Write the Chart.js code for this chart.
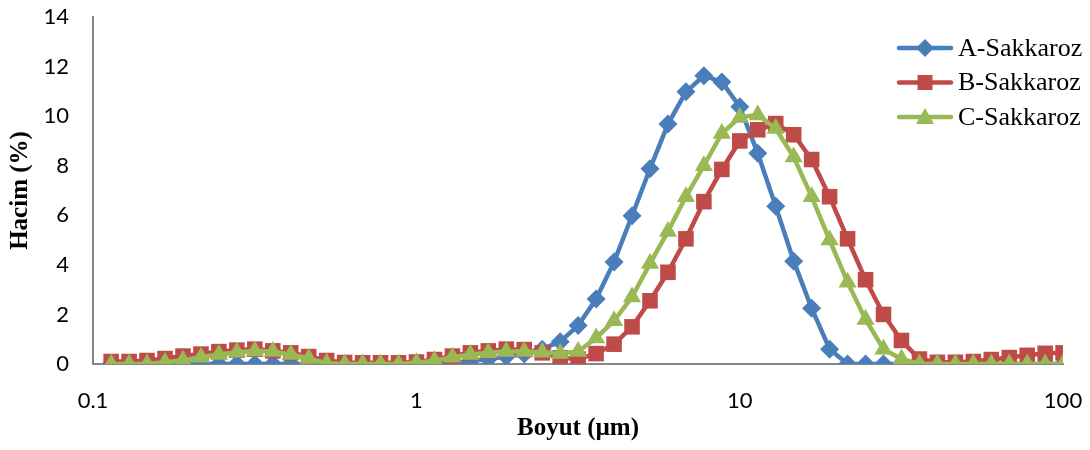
<!DOCTYPE html>
<html>
<head>
<meta charset="utf-8">
<script src="https://cdn.jsdelivr.net/npm/chart.js@4.4.1/dist/chart.umd.min.js"></script>
<style>
  html, body { margin: 0; padding: 0; background: #fff; }
  #wrap { width: 1090px; height: 450px; position: relative; }
</style>
</head>
<body>
<div id="wrap"><canvas id="chart" width="1090" height="450"></canvas></div>
<script>
// particle size classes (µm)
const sizes = [
  0.1138, 0.1293, 0.1469, 0.1670, 0.1898, 0.2157, 0.2451, 0.2786, 0.3166, 0.3598,
  0.4089, 0.4647, 0.5281, 0.6002, 0.6821, 0.7750, 0.8808, 1.0009, 1.1376, 1.2928,
  1.4692, 1.6697, 1.8975, 2.1565, 2.4508, 2.7852, 3.1652, 3.5975, 4.0886, 4.6463,
  5.2809, 6.0007, 6.8202, 7.7500, 8.8082, 10.009, 11.376, 12.928, 14.692, 16.697,
  18.975, 21.565, 24.508, 27.852, 31.652, 35.975, 40.886, 46.463, 52.809, 60.007,
  68.202, 77.500, 88.082, 100.09
];

const seriesNames = ['A-Sakkaroz', 'B-Sakkaroz', 'C-Sakkaroz'];

// Hacim (%)
const volA = [
  0, 0, 0, 0, 0, 0, 0, 0, 0, 0,
  0, 0, 0, 0, 0, 0, 0, 0, 0, 0.05,
  0.12, 0.2, 0.3, 0.4, 0.6, 0.9, 1.55, 2.62, 4.12, 5.98,
  7.88, 9.68, 10.98, 11.63, 11.38, 10.38, 8.5, 6.36, 4.15, 2.25,
  0.6, 0, 0, 0, 0, 0, 0, 0, 0, 0,
  0, 0, 0, 0
];
const volB = [
  0.1, 0.1, 0.14, 0.22, 0.32, 0.4, 0.5, 0.56, 0.6, 0.53,
  0.45, 0.3, 0.14, 0.06, 0.05, 0.05, 0.05, 0.08, 0.18, 0.32,
  0.45, 0.53, 0.6, 0.58, 0.45, 0.25, 0.2, 0.42, 0.8, 1.5,
  2.55, 3.7, 5.05, 6.55, 7.85, 9.0, 9.45, 9.7, 9.25, 8.25,
  6.75, 5.05, 3.4, 2.0, 0.95, 0.2, 0.07, 0.07, 0.1, 0.18,
  0.26, 0.35, 0.43, 0.45
];
const volC = [
  0, 0, 0, 0.07, 0.15, 0.27, 0.38, 0.47, 0.52, 0.5,
  0.38, 0.22, 0.03, 0, 0, 0, 0, 0.05, 0.13, 0.27,
  0.38, 0.45, 0.5, 0.5, 0.47, 0.42, 0.5, 1.05, 1.75, 2.7,
  4.05, 5.35, 6.75, 8.0, 9.3, 9.95, 10.05, 9.5, 8.35, 6.75,
  5.0, 3.3, 1.8, 0.6, 0.2, 0, 0, 0, 0, 0,
  0, 0, 0, 0
];

const xTicks = [0.1, 1, 10, 100];
const yTicks = [0, 2, 4, 6, 8, 10, 12, 14];

const colors = ['#4A7EBB', '#BE4B48', '#98B954'];
const styles = ['rectRot', 'rect', 'triangle'];
const radii = [9.5, 11, 10.5];

const toPoints = vals => sizes.map((s, i) => ({ x: s, y: vals[i] }));

// legend drawn in the top right of the plot, like the Excel original
const sideLegend = {
  id: 'sideLegend',
  afterDraw(chart) {
    const ctx = chart.ctx;
    ctx.save();
    seriesNames.forEach((name, i) => {
      const y = 48 + i * 34.5;
      ctx.strokeStyle = colors[i];
      ctx.lineWidth = 4.5;
      ctx.lineCap = 'round';
      ctx.beginPath();
      ctx.moveTo(899, y);
      ctx.lineTo(951, y);
      ctx.stroke();
      ctx.fillStyle = colors[i];
      ctx.beginPath();
      if (i === 0) {
        ctx.moveTo(925, y - 9); ctx.lineTo(934, y); ctx.lineTo(925, y + 9); ctx.lineTo(916, y);
      } else if (i === 1) {
        ctx.rect(917.5, y - 7.5, 15, 15);
      } else {
        ctx.moveTo(925, y - 9); ctx.lineTo(934, y + 7); ctx.lineTo(916, y + 7);
      }
      ctx.closePath();
      ctx.fill();
      ctx.fillStyle = '#000';
      ctx.font = '26px "Liberation Serif", "Times New Roman", serif';
      ctx.textBaseline = 'middle';
      ctx.fillText(name, 958, y + 1);
    });
    ctx.restore();
  }
};

new Chart(document.getElementById('chart'), {
  type: 'line',
  data: {
    datasets: [volA, volB, volC].map((vals, i) => ({
      label: seriesNames[i],
      data: toPoints(vals),
      borderColor: colors[i],
      backgroundColor: colors[i],
      borderWidth: 4.5,
      pointStyle: styles[i],
      pointRadius: radii[i],
      pointBorderWidth: 0,
      pointBackgroundColor: colors[i],
      tension: 0,
      order: 3 - i
    }))
  },
  options: {
    responsive: false,
    animation: false,
    events: [],
    layout: { padding: { left: 0, top: 17, right: 27, bottom: 0 } },
    plugins: { legend: { display: false }, tooltip: { enabled: false } },
    scales: {
      x: {
        type: 'logarithmic',
        min: 0.1,
        max: 100,
        afterBuildTicks: scale => { scale.ticks = xTicks.map(v => ({ value: v })); },
        afterFit: scale => {
          scale.height = 86;
          scale.paddingLeft = 0; scale.paddingRight = 0;
        },
        grid: { display: false, drawTicks: false },
        border: { display: true, color: '#868686', width: 2 },
        ticks: {
          padding: 24,
          color: '#000',
          font: { family: 'Lato, "Open Sans", sans-serif', size: 22 },
          maxRotation: 0,
          autoSkip: false,
          callback: v => String(v)
        },
        title: {
          display: true,
          text: 'Boyut (µm)',
          color: '#000',
          font: { family: '"Liberation Serif", "Times New Roman", serif', size: 25, weight: 'bold' },
          padding: { top: 0, bottom: 6 }
        }
      },
      y: {
        min: 0,
        max: 14,
        afterBuildTicks: scale => { scale.ticks = yTicks.map(v => ({ value: v })); },
        afterFit: scale => {
          scale.width = 93;
          scale.paddingTop = 0; scale.paddingBottom = 0;
        },
        grid: { display: false, drawTicks: false },
        border: { display: true, color: '#868686', width: 2 },
        ticks: {
          padding: 24,
          color: '#000',
          font: { family: 'Lato, "Open Sans", sans-serif', size: 22 }
        },
        title: {
          display: true,
          text: 'Hacim (%)',
          color: '#000',
          font: { family: '"Liberation Serif", "Times New Roman", serif', size: 25, weight: 'bold' },
          padding: { top: 6, bottom: 0 }
        }
      }
    }
  },
  plugins: [sideLegend]
});
</script>
</body>
</html>
